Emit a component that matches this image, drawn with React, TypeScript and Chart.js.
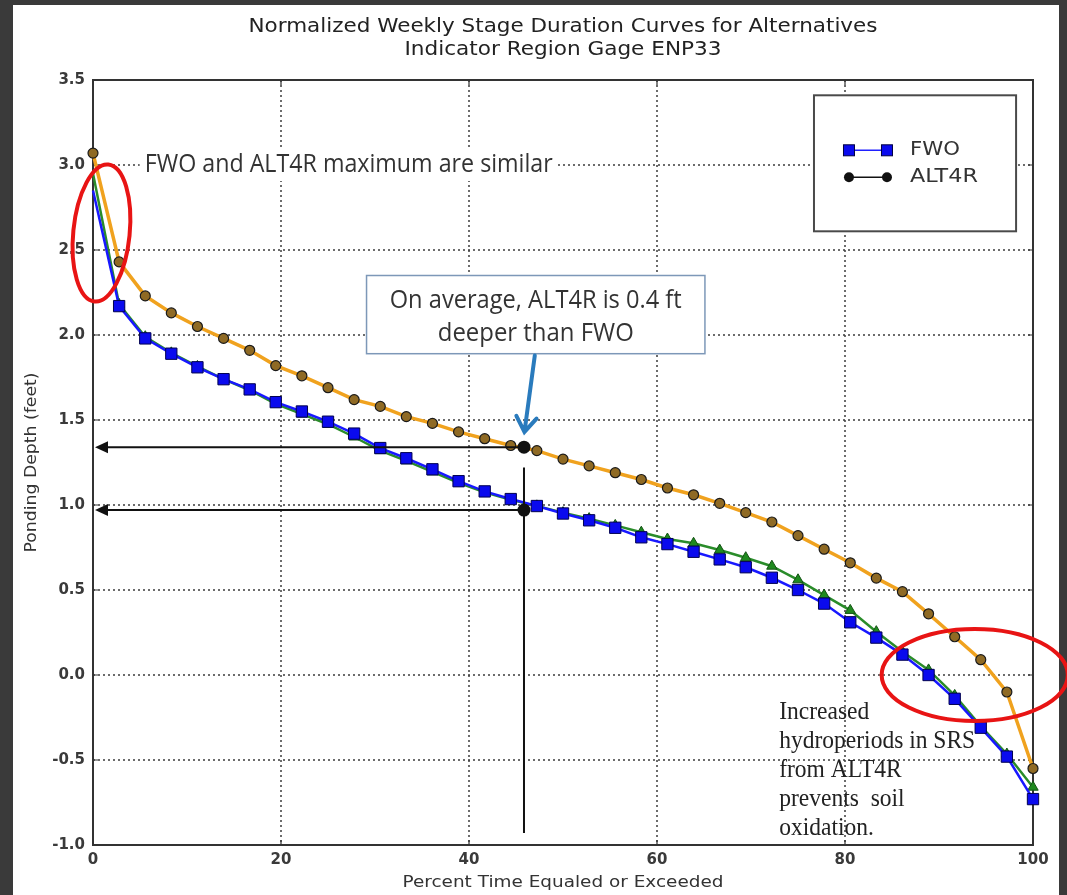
import React, { useEffect, useRef } from "react";
import { Chart, registerables } from "chart.js";

Chart.register(...registerables);

// ---------- data ----------
const percentTime = [
  0, 2.78, 5.56, 8.33, 11.11, 13.89, 16.67, 19.44, 22.22, 25, 27.78, 30.56, 33.33,
  36.11, 38.89, 41.67, 44.44, 47.22, 50, 52.78, 55.56, 58.33, 61.11, 63.89, 66.67,
  69.44, 72.22, 75, 77.78, 80.56, 83.33, 86.11, 88.89, 91.67, 94.44, 97.22, 100,
];
const fwoDepth = [
  2.85, 2.17, 1.98, 1.89, 1.81, 1.74, 1.68, 1.605, 1.55, 1.49, 1.42, 1.335, 1.275,
  1.21, 1.14, 1.08, 1.035, 0.994, 0.95, 0.91, 0.866, 0.81, 0.77, 0.725, 0.68,
  0.634, 0.572, 0.5, 0.42, 0.31, 0.22, 0.12, 0.0, -0.14, -0.31, -0.48, -0.73,
];
const alt4rDepth = [
  3.07, 2.43, 2.23, 2.13, 2.05, 1.98, 1.91, 1.82, 1.76, 1.69, 1.62, 1.58, 1.52,
  1.48, 1.43, 1.39, 1.35, 1.32, 1.27, 1.23, 1.19, 1.15, 1.1, 1.06, 1.01,
  0.955, 0.9, 0.82, 0.74, 0.66, 0.57, 0.49, 0.36, 0.225, 0.09, -0.1, -0.55,
];
const otherAltDepth = [
  2.95, 2.18, 1.99, 1.895, 1.815, 1.74, 1.675, 1.595, 1.535, 1.475, 1.4, 1.32, 1.26,
  1.195, 1.13, 1.075, 1.03, 0.995, 0.955, 0.92, 0.88, 0.84, 0.8, 0.775, 0.735,
  0.69, 0.64, 0.56, 0.47, 0.38, 0.255, 0.137, 0.03, -0.12, -0.3, -0.465, -0.66,
];
const xTickValues = [0, 20, 40, 60, 80, 100];
const yTickValues = [-1.0, -0.5, 0.0, 0.5, 1.0, 1.5, 2.0, 2.5, 3.0, 3.5];

// ---------- text ----------
const titleLines = [
  "Normalized Weekly Stage Duration Curves for Alternatives",
  "Indicator Region Gage ENP33",
];
const xAxisLabel = "Percent Time Equaled or Exceeded";
const yAxisLabel = "Ponding Depth (feet)";
const legendLabels = ["FWO", "ALT4R"];
const noteMaximum = "FWO and ALT4R maximum are similar";
const calloutLines = ["On average, ALT4R is 0.4 ft", "deeper than FWO"];
const noteSoilLines = ["Increased", "hydroperiods in SRS", "from ALT4R", "prevents  soil", "oxidation."];

// annotation reference values (data units)
const markerPercent = 45.85;
const alt4rAtMarker = 1.34;
const fwoAtMarker = 0.97;

// ---------- helpers ----------
function drawFitText(
  ctx: CanvasRenderingContext2D,
  text: string,
  x: number,
  y: number,
  font: string,
  color: string,
  align: CanvasTextAlign,
  targetWidth?: number
) {
  ctx.save();
  ctx.font = font;
  ctx.fillStyle = color;
  ctx.textBaseline = "middle";
  ctx.textAlign = align;
  const w = ctx.measureText(text).width;
  const sx = targetWidth ? targetWidth / w : 1;
  ctx.translate(x, y);
  ctx.scale(sx, 1);
  ctx.fillText(text, 0, 0);
  ctx.restore();
}

const decorPlugin = {
  id: "decor",
  beforeDraw(chart: any) {
    const { ctx, width, height } = chart;
    ctx.save();
    ctx.fillStyle = "#3a3a3a";
    ctx.fillRect(0, 0, width, height);
    ctx.fillStyle = "#ffffff";
    ctx.fillRect(13, 5, width - 21, height - 5);
    ctx.restore();
  },
  beforeDatasetsDraw(chart: any) {
    const { ctx, chartArea: a, scales } = chart;
    ctx.save();
    ctx.strokeStyle = "#3c3c3c";
    ctx.lineWidth = 1.5;
    ctx.setLineDash([2, 3]);
    xTickValues.forEach((v) => {
      const px = scales.x.getPixelForValue(v);
      if (px <= a.left + 1 || px >= a.right - 1) return;
      ctx.beginPath();
      ctx.moveTo(px, a.top);
      ctx.lineTo(px, a.bottom);
      ctx.stroke();
    });
    yTickValues.forEach((v) => {
      const py = scales.y.getPixelForValue(v);
      if (py <= a.top + 1 || py >= a.bottom - 1) return;
      ctx.beginPath();
      ctx.moveTo(a.left, py);
      ctx.lineTo(a.right, py);
      ctx.stroke();
    });
    ctx.setLineDash([]);
    // frame
    ctx.strokeStyle = "#333";
    ctx.lineWidth = 2;
    ctx.strokeRect(a.left, a.top, a.right - a.left, a.bottom - a.top);
    // inward tick marks
    ctx.lineWidth = 1.2;
    xTickValues.forEach((v) => {
      const px = scales.x.getPixelForValue(v);
      ctx.beginPath();
      ctx.moveTo(px, a.bottom);
      ctx.lineTo(px, a.bottom - 5);
      ctx.moveTo(px, a.top);
      ctx.lineTo(px, a.top + 5);
      ctx.stroke();
    });
    yTickValues.forEach((v) => {
      const py = scales.y.getPixelForValue(v);
      ctx.beginPath();
      ctx.moveTo(a.left, py);
      ctx.lineTo(a.left + 5, py);
      ctx.moveTo(a.right, py);
      ctx.lineTo(a.right - 5, py);
      ctx.stroke();
    });
    ctx.restore();
  },
  afterDatasetsDraw(chart: any) {
    const { ctx, chartArea: a, scales } = chart;
    const X = (v: number) => scales.x.getPixelForValue(v);
    const Y = (v: number) => scales.y.getPixelForValue(v);
    ctx.save();

    // black reference arrows
    ctx.strokeStyle = "#111";
    ctx.fillStyle = "#111";
    ctx.lineWidth = 2;
    [alt4rAtMarker, fwoAtMarker].forEach((val) => {
      const py = Y(val);
      const x0 = X(markerPercent);
      const tip = a.left + 2;
      ctx.beginPath();
      ctx.moveTo(x0, py);
      ctx.lineTo(tip + 10, py);
      ctx.stroke();
      ctx.beginPath();
      ctx.moveTo(tip, py);
      ctx.lineTo(tip + 13, py - 6);
      ctx.lineTo(tip + 13, py + 6);
      ctx.closePath();
      ctx.fill();
    });
    ctx.beginPath();
    ctx.moveTo(X(markerPercent), Y(1.22));
    ctx.lineTo(X(markerPercent), Y(-0.93));
    ctx.stroke();
    [alt4rAtMarker, fwoAtMarker].forEach((val) => {
      ctx.beginPath();
      ctx.arc(X(markerPercent), Y(val), 6.5, 0, Math.PI * 2);
      ctx.fill();
    });

    // callout box
    const bx0 = X(29.1), bx1 = X(65.1), by0 = Y(2.35), by1 = Y(1.89);
    ctx.fillStyle = "#fff";
    ctx.fillRect(bx0, by0, bx1 - bx0, by1 - by0);
    ctx.strokeStyle = "#7d98b8";
    ctx.lineWidth = 1.5;
    ctx.strokeRect(bx0, by0, bx1 - bx0, by1 - by0);
    const cf = "25px 'Open Sans', 'Liberation Sans', sans-serif";
    drawFitText(ctx, calloutLines[0], (bx0 + bx1) / 2, by0 + 25, cf, "#333", "center", 292);
    drawFitText(ctx, calloutLines[1], (bx0 + bx1) / 2, by0 + 58, cf, "#333", "center", 196);

    // blue arrow
    const ax0 = X(47.0), ay0 = Y(1.88), ax1 = X(45.9), ay1 = Y(1.43);
    ctx.strokeStyle = "#2a7bbd";
    ctx.lineWidth = 4;
    ctx.lineCap = "round";
    ctx.beginPath();
    ctx.moveTo(ax0, ay0);
    ctx.lineTo(ax1, ay1);
    const ang = Math.atan2(ay1 - ay0, ax1 - ax0);
    const hl = 18;
    ctx.moveTo(ax1 - hl * Math.cos(ang - 0.6), ay1 - hl * Math.sin(ang - 0.6));
    ctx.lineTo(ax1, ay1);
    ctx.lineTo(ax1 - hl * Math.cos(ang + 0.6), ay1 - hl * Math.sin(ang + 0.6));
    ctx.stroke();
    ctx.lineCap = "butt";

    // maximum note with white background
    const nf = "25px 'Open Sans', 'Liberation Sans', sans-serif";
    const nx = X(5.5), ny = Y(3.0);
    ctx.fillStyle = "#fff";
    ctx.fillRect(nx - 5, ny - 16, 418, 32);
    drawFitText(ctx, noteMaximum, nx, ny, nf, "#333", "left", 408);

    // soil note (serif)
    const sf = "25px 'Liberation Serif', 'DejaVu Serif', serif";
    noteSoilLines.forEach((line, i) => {
      const ly = Y(-0.22) + i * 29;
      ctx.save();
      ctx.font = sf;
      ctx.fillStyle = "#222";
      ctx.textBaseline = "middle";
      ctx.textAlign = "left";
      const w = ctx.measureText(noteSoilLines[1]).width;
      const sx = 196 / w;
      ctx.translate(X(73.0), ly);
      ctx.scale(sx, 1);
      ctx.fillText(line, 0, 0);
      ctx.restore();
    });

    // red ellipses
    ctx.strokeStyle = "#e81414";
    ctx.lineWidth = 4;
    const ell = (cx: number, cy: number, rx: number, ry: number, rot: number) => {
      const pcx = X(cx), pcy = Y(cy);
      const prx = Math.abs(X(cx + rx) - pcx);
      const pry = Math.abs(Y(cy + ry) - pcy);
      ctx.beginPath();
      ctx.ellipse(pcx, pcy, prx, pry, rot, 0, Math.PI * 2);
      ctx.stroke();
    };
    ell(0.9, 2.6, 3.0, 0.405, 0.1);
    ell(93.8, 0.0, 9.9, 0.27, 0.0);

    // legend
    const lx0 = X(76.7), lx1 = X(98.2), ly0 = Y(3.41), ly1 = Y(2.61);
    ctx.fillStyle = "#fff";
    ctx.fillRect(lx0, ly0, lx1 - lx0, ly1 - ly0);
    ctx.strokeStyle = "#4a4a4a";
    ctx.lineWidth = 2;
    ctx.strokeRect(lx0, ly0, lx1 - lx0, ly1 - ly0);
    const r1 = ly0 + 55, r2 = ly0 + 82;
    const mxA = lx0 + 35, mxB = lx0 + 73;
    ctx.strokeStyle = "#2020ff";
    ctx.lineWidth = 1.5;
    ctx.beginPath();
    ctx.moveTo(mxA, r1);
    ctx.lineTo(mxB, r1);
    ctx.stroke();
    ctx.fillStyle = "#0a0aee";
    ctx.strokeStyle = "#000040";
    ctx.lineWidth = 1;
    [mxA, mxB].forEach((mx) => {
      ctx.fillRect(mx - 5.5, r1 - 5.5, 11, 11);
      ctx.strokeRect(mx - 5.5, r1 - 5.5, 11, 11);
    });
    ctx.strokeStyle = "#111";
    ctx.lineWidth = 1.5;
    ctx.beginPath();
    ctx.moveTo(mxA, r2);
    ctx.lineTo(mxB, r2);
    ctx.stroke();
    ctx.fillStyle = "#111";
    [mxA, mxB].forEach((mx) => {
      ctx.beginPath();
      ctx.arc(mx, r2, 5, 0, Math.PI * 2);
      ctx.fill();
    });
    const lf = "19px 'DejaVu Sans', sans-serif";
    drawFitText(ctx, legendLabels[0], lx0 + 96, r1, lf, "#333", "left", 50);
    drawFitText(ctx, legendLabels[1], lx0 + 96, r2, lf, "#333", "left", 68);

    ctx.restore();
  },
  afterDraw(chart: any) {
    const { ctx, chartArea: a } = chart;
    const cx = (a.left + a.right) / 2;
    const tf = "20px 'DejaVu Sans', sans-serif";
    drawFitText(ctx, titleLines[0], cx, 27, tf, "#222", "center", 629);
    drawFitText(ctx, titleLines[1], cx, 50, tf, "#222", "center", 317);
    const af = "15px 'DejaVu Sans', sans-serif";
    drawFitText(ctx, xAxisLabel, cx, 883, af, "#333", "center", 321);
    ctx.save();
    ctx.translate(32, (a.top + a.bottom) / 2);
    ctx.rotate(-Math.PI / 2);
    drawFitText(ctx, yAxisLabel, 0, 0, af, "#333", "center", 180);
    ctx.restore();
  },
};

export default function App() {
  const canvasRef = useRef<HTMLCanvasElement | null>(null);

  useEffect(() => {
    document.body.style.margin = "0";
    const canvas = canvasRef.current;
    if (!canvas) return;
    const toPoints = (ys: number[]) => percentTime.map((x, i) => ({ x, y: ys[i] }));
    const tickFont = { family: "'DejaVu Sans', sans-serif", size: 15, weight: "bold" as const };
    const hideFirst = (r: number) => (c: any) => (c.dataIndex === 0 ? 0 : r);

    const chart = new Chart(canvas, {
      type: "line",
      data: {
        datasets: [
          {
            label: "ALT4R",
            data: toPoints(alt4rDepth),
            borderColor: "#f0a21e",
            borderWidth: 3.5,
            pointStyle: "circle",
            pointRadius: 5,
            pointBackgroundColor: "#8f6a24",
            pointBorderColor: "#1a1a1a",
            pointBorderWidth: 1.2,
            tension: 0,
            clip: false as any,
          },
          {
            label: "FWO",
            data: toPoints(fwoDepth),
            borderColor: "#1818ff",
            borderWidth: 2.5,
            pointStyle: "rect",
            pointRadius: hideFirst(8) as any,
            pointBackgroundColor: "#0a0aee",
            pointBorderColor: "#000050",
            pointBorderWidth: 1,
            tension: 0,
            clip: false as any,
          },
          {
            label: "Other alternative",
            data: toPoints(otherAltDepth),
            borderColor: "#2a8c2a",
            borderWidth: 2.5,
            pointStyle: "triangle",
            pointRadius: hideFirst(6) as any,
            pointBackgroundColor: "#1f8a1f",
            pointBorderColor: "#145214",
            pointBorderWidth: 1,
            tension: 0,
            clip: false as any,
          },
        ],
      },
      options: {
        animation: false,
        responsive: false,
        maintainAspectRatio: false,
        layout: { padding: { left: 0, top: 80, right: 34, bottom: 0 } },
        plugins: {
          legend: { display: false },
          title: { display: false },
          tooltip: { enabled: false },
        },
        scales: {
          x: {
            type: "linear",
            min: 0,
            max: 100,
            afterFit: (s: any) => {
              s.height = 50;
            },
            afterBuildTicks: (s: any) => {
              s.ticks = xTickValues.map((v) => ({ value: v }));
            },
            grid: { display: false, drawTicks: false },
            border: { display: false },
            ticks: {
              font: tickFont,
              color: "#3a3a3a",
              padding: 6,
              maxRotation: 0,
              autoSkip: false,
              callback: (v: any) => String(v),
            },
          },
          y: {
            type: "linear",
            min: -1,
            max: 3.5,
            afterFit: (s: any) => {
              s.width = 93;
            },
            afterBuildTicks: (s: any) => {
              s.ticks = yTickValues.map((v) => ({ value: v }));
            },
            grid: { display: false, drawTicks: false },
            border: { display: false },
            ticks: {
              font: tickFont,
              color: "#3a3a3a",
              padding: 8,
              autoSkip: false,
              callback: (v: any) => Number(v).toFixed(1),
            },
          },
        },
      },
      plugins: [decorPlugin],
    });
    return () => chart.destroy();
  }, []);

  return (
    <div style={{ position: "absolute", left: 0, top: 0, width: 1067, height: 895 }}>
      <canvas ref={canvasRef} width={1067} height={895} style={{ display: "block" }} />
    </div>
  );
}
